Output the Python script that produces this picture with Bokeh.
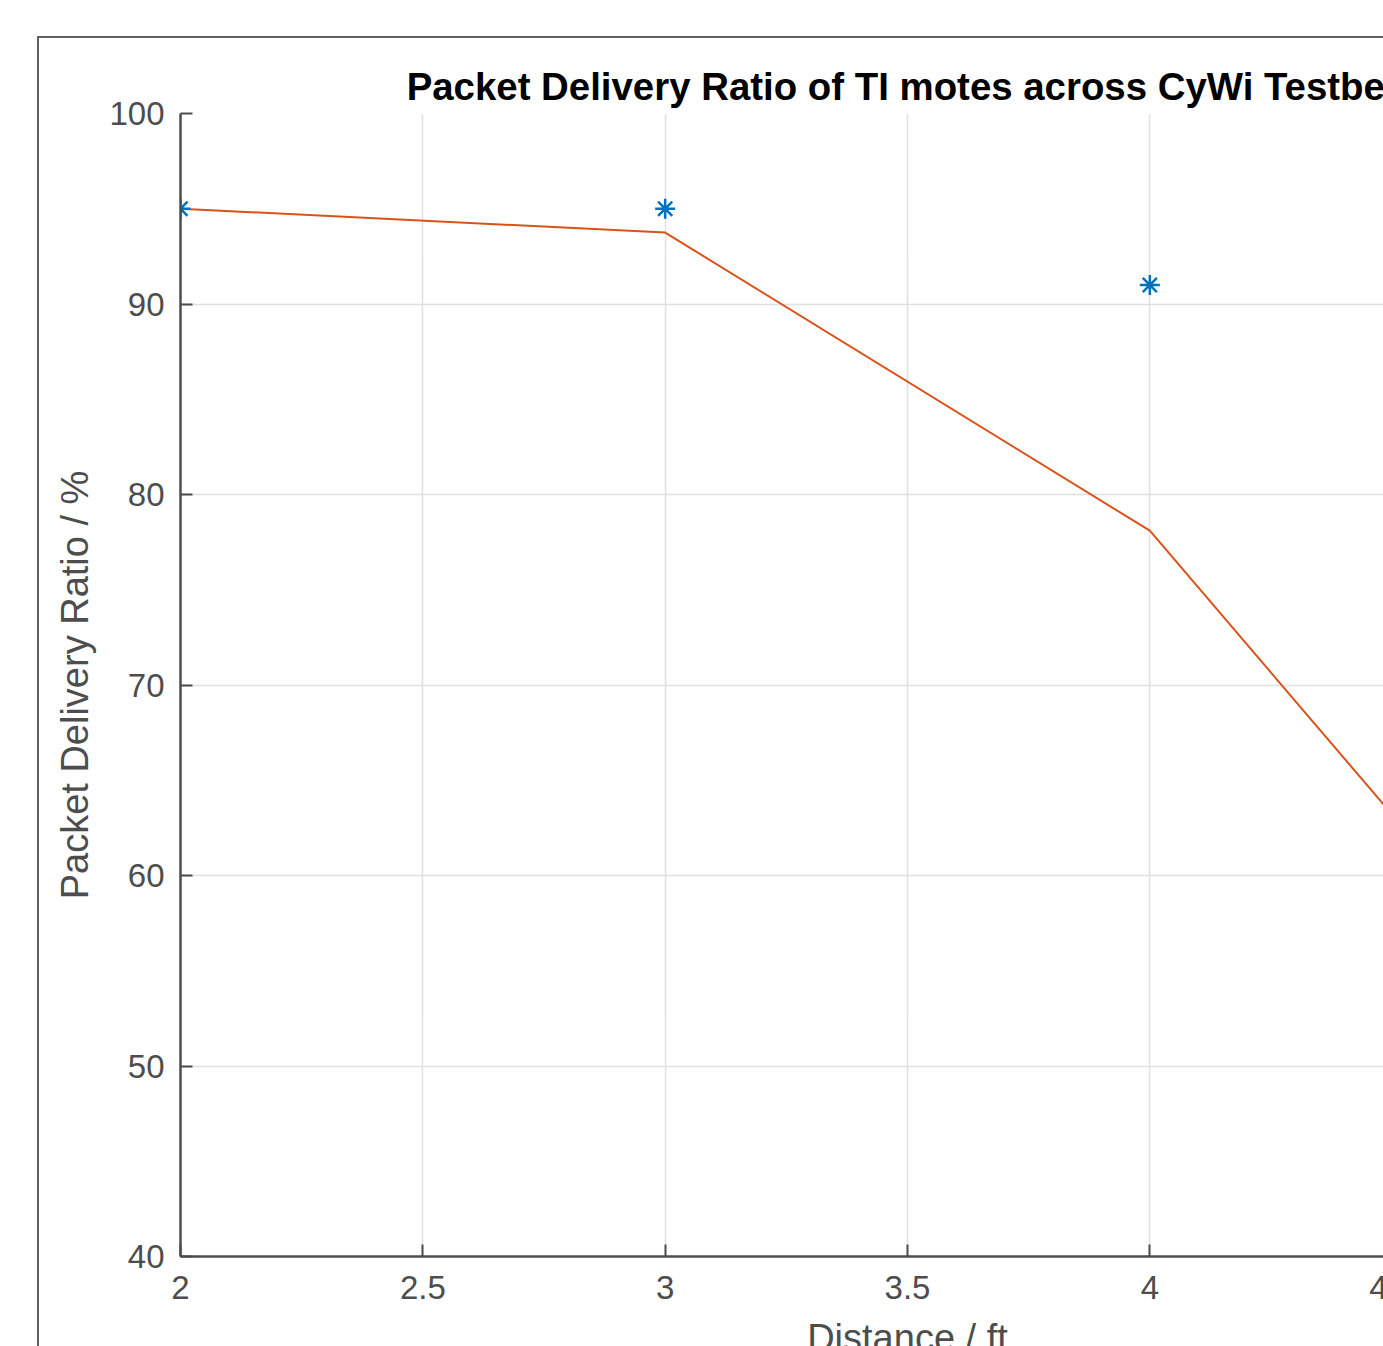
from bokeh.plotting import figure
from bokeh.models import (Range1d, FixedTicker, NumeralTickFormatter,
                          InlineStyleSheet, GlobalInlineStyleSheet)
from bokeh.embed import file_html
from bokeh.resources import INLINE

# ---- data ----
distance_points = [2, 3, 4]
pdr_points = [95.0, 95.0, 91.0]
distance_curve = [2, 3, 4, 5]
pdr_curve = [95.0, 93.75, 78.1, 48.3]
x_ticks = [2, 2.5, 3, 3.5, 4, 4.5, 5]
y_ticks = [40, 50, 60, 70, 80, 90, 100]
title_text = "Packet Delivery Ratio of TI motes across CyWi Testbed"
x_label = "Distance / ft"
y_label = "Packet Delivery Ratio / %"
x_full = (2, 5)
y_full = (40, 100)

FONT = "Liberation Sans"
GRAY = "#4d4d4d"

# The original MATLAB figure is larger than the window: the window crops it.
p = figure(frame_width=1454, frame_height=1143, output_backend="svg",
           toolbar_location=None,
           x_range=Range1d(*x_full), y_range=Range1d(*y_full),
           min_border_left=180, min_border_right=60, min_border_top=113,
           min_border_bottom=140)
p.outline_line_color = None
p.background_fill_color = "white"
p.border_fill_color = "white"

p.title.text = title_text
p.title.align = "center"
p.title.text_font = FONT
p.title.text_font_size = "38.4px"
p.title.text_font_style = "bold"
p.title.text_color = "black"
p.title.standoff = 11

for ax in (p.xaxis[0], p.yaxis[0]):
    ax.axis_line_color = GRAY
    ax.axis_line_width = 2.5
    ax.major_tick_line_color = GRAY
    ax.major_tick_line_width = 2
    ax.major_tick_in = 12
    ax.major_tick_out = 0
    ax.minor_tick_line_color = None
    ax.major_label_text_font = FONT
    ax.major_label_text_font_size = "33px"
    ax.major_label_text_color = GRAY
    ax.formatter = NumeralTickFormatter(format="0.[0]")
    ax.axis_label_text_font = FONT
    ax.axis_label_text_font_size = "38px"
    ax.axis_label_text_font_style = "normal"
    ax.axis_label_text_color = GRAY

p.xaxis.ticker = FixedTicker(ticks=x_ticks)
p.yaxis.ticker = FixedTicker(ticks=y_ticks)
p.xaxis.major_label_standoff = 19
p.yaxis.major_label_standoff = 16
p.xaxis.axis_label = x_label
p.yaxis.axis_label = y_label
p.xaxis.axis_label_standoff = 15
p.yaxis.axis_label_standoff = 10

p.xgrid.ticker = FixedTicker(ticks=x_ticks)
p.ygrid.ticker = FixedTicker(ticks=y_ticks)
for g in (p.xgrid[0], p.ygrid[0]):
    g.grid_line_color = "#e0e0e0"
    g.grid_line_width = 1.5

p.line(distance_curve, pdr_curve, line_color="#D95319", line_width=2)
p.scatter(distance_points, pdr_points, marker="asterisk", size=20,
          line_color="#0072BD", line_width=2.5)

# outer figure-window border, and the window crops the larger figure
p.stylesheets.append(InlineStyleSheet(css="""
:host::after {
  content: ""; position: absolute; left: 37px; top: 36px; right: 20px; bottom: 10px;
  border-left: 2px solid #606060; border-top: 2px solid #606060;
  pointer-events: none; z-index: 5;
}
"""))
p.stylesheets.append(GlobalInlineStyleSheet(css="html, body { overflow: hidden; }"))

open("out.html", "w").write(file_html(p, INLINE))
